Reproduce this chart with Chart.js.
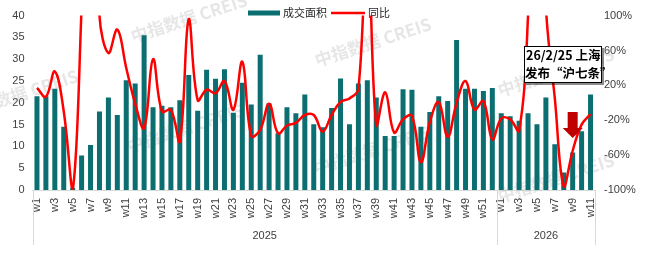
<!DOCTYPE html>
<html><head><meta charset="utf-8">
<script src="https://cdn.jsdelivr.net/npm/chart.js@4/dist/chart.umd.min.js"></script>
<style>html,body{margin:0;padding:0;background:#fff;}#wrap{width:650px;height:256px;}</style>
</head><body><div id="wrap"><canvas id="c" width="650" height="256"></canvas></div>
<script>
// ---- data ----
const weeks2025 = ['w1','w2','w3','w4','w5','w6','w7','w8','w9','w10','w11','w12','w13','w14','w15','w16','w17','w18','w19','w20','w21','w22','w23','w24','w25','w26','w27','w28','w29','w30','w31','w32','w33','w34','w35','w36','w37','w38','w39','w40','w41','w42','w43','w44','w45','w46','w47','w48','w49','w50','w51','w52'];
const weeks2026 = ['w1','w2','w3','w4','w5','w6','w7','w8','w9','w10','w11'];
const categories = weeks2025.concat(weeks2026);
const yearLabels = ['2025','2026'];
const area2025 = [21.5,21.5,23.2,14.5,0.5,7.9,10.3,18.0,21.2,17.2,25.2,24.4,35.5,19.0,19.3,19.0,20.6,26.4,18.2,27.6,25.5,27.7,17.7,24.6,19.6,31.0,19.9,13.0,19.0,17.6,21.9,15.1,14.4,18.8,25.6,15.1,24.4,25.2,21.2,12.4,12.4,23.1,23.0,14.5,17.9,21.5,20.4,34.4,23.2,23.2,22.7,23.4];
const area2026 = [17.6,16.9,15.9,17.6,15.1,21.2,10.5,4.0,8.6,13.5,21.9];
const yoy2025 = [17,7,36,-10,-100,110,400,100,57,84,40,-1,-29,50,-10,-8,-44,96,3,15,11,25,-8,47,-38,-31,-1,-35,-26,-23,-14,-14,-33,-14,1,5,16,200,-25,12,-34,-19,-15,-68,-22,1,-39,0,25,-8,2,-42];
const yoy2026 = [-18,-19,-32,100,400,110,5,-96,-55,-25,-13];
const areaValues = area2025.concat(area2026);
const yoyValues = yoy2025.concat(yoy2026);
const leftTicks = [0,5,10,15,20,25,30,35,40];
const rightTicks = [-100,-60,-20,20,60,100];
const seriesNames = ['成交面积','同比'];
const noteLines = ['26/2/25 上海','发布“沪七条”'];
const watermark = '中指数据 CREIS';

const TEAL = '#0b6e70';
const RED = '#ff0000';
const TXT = '#404040';

const extras = {
  id: 'extras',
  beforeDatasetsDraw(chart) {
    const ctx = chart.ctx;
    ctx.save();
    ctx.fillStyle = 'rgba(150,150,150,0.24)';
    ctx.font = 'bold 17px "Noto Sans CJK SC", "Liberation Sans", sans-serif';
    ctx.textAlign = 'center';
    ctx.textBaseline = 'middle';
    const spots = [[189,18],[373,42],[556,72],[20,94],[185,128],[372,150],[556,178]];
    spots.forEach(([x,y]) => {
      ctx.save(); ctx.translate(x,y); ctx.rotate(-18*Math.PI/180);
      ctx.fillText(watermark,0,0); ctx.restore();
    });
    ctx.restore();
  },
  afterDatasetsDraw(chart) {
    const ctx = chart.ctx;
    const xs = chart.scales.x;
    const ca = chart.chartArea;
    ctx.save();
    // legend
    ctx.fillStyle = TEAL;
    ctx.fillRect(248, 10.5, 32, 5);
    ctx.font = '11px "Noto Sans CJK SC", sans-serif';
    ctx.fillStyle = '#262626';
    ctx.textBaseline = 'middle';
    ctx.textAlign = 'left';
    ctx.fillText(seriesNames[0], 283, 13);
    ctx.strokeStyle = RED; ctx.lineWidth = 2.5;
    ctx.beginPath(); ctx.moveTo(331, 13); ctx.lineTo(365, 13); ctx.stroke();
    ctx.fillText(seriesNames[1], 368, 13);

    // group separators + year labels
    const n1 = weeks2025.length;
    const bx = (xs.getPixelForValue(n1-1) + xs.getPixelForValue(n1)) / 2;
    const seps = [ca.left, bx, ca.right];
    ctx.strokeStyle = '#d9d9d9'; ctx.lineWidth = 1;
    seps.forEach(x => {
      const px = Math.round(x) + 0.5;
      ctx.beginPath(); ctx.moveTo(px, ca.bottom); ctx.lineTo(px, 245); ctx.stroke();
    });
    ctx.fillStyle = TXT;
    ctx.font = '11px "Liberation Sans", Arial, sans-serif';
    ctx.textAlign = 'center';
    ctx.fillText(yearLabels[0], (seps[0]+seps[1])/2, 236);
    ctx.fillText(yearLabels[1], (seps[1]+seps[2])/2, 236);

    // annotation box
    const bxR = ca.right + 7, bxL = bxR - 78, top = 46, h = 37;
    ctx.fillStyle = 'rgba(0,0,0,0.45)';
    ctx.fillRect(bxL + 2, top + 2, bxR - bxL, h);
    ctx.fillStyle = '#ffffff';
    ctx.fillRect(bxL, top, bxR - bxL, h);
    ctx.strokeStyle = '#000'; ctx.lineWidth = 1;
    ctx.strokeRect(bxL + 0.5, top + 0.5, bxR - bxL - 1, h - 1);
    ctx.fillStyle = '#000';
    ctx.font = 'bold 12.5px "Noto Sans CJK SC", sans-serif';
    ctx.textAlign = 'left';
    ctx.fillText(noteLines[0], bxL + 2, top + 9);
    ctx.fillText(noteLines[1], bxL + 1, top + 27);

    // arrow
    const ax = xs.getPixelForValue(n1 + 8);
    ctx.fillStyle = '#c00000';
    ctx.fillRect(ax - 5, 112, 10, 17);
    ctx.beginPath(); ctx.moveTo(ax - 10, 128); ctx.lineTo(ax + 10, 128); ctx.lineTo(ax, 138); ctx.closePath(); ctx.fill();
    ctx.restore();
  }
};

new Chart(document.getElementById('c'), {
  type: 'bar',
  data: {
    labels: categories,
    datasets: [
      { type: 'line', label: seriesNames[1], data: yoyValues, yAxisID: 'y1', borderColor: RED, borderWidth: 2.5,
        pointRadius: 0, tension: 0.4, fill: false, order: 1 },
      { type: 'bar', label: seriesNames[0], data: areaValues, yAxisID: 'y', backgroundColor: TEAL,
        barPercentage: 0.56, categoryPercentage: 1, order: 2 }
    ]
  },
  options: {
    responsive: false, devicePixelRatio: 1, animation: false,
    layout: { padding: { top: 14, left: 0, right: 0, bottom: 0 } },
    plugins: { legend: { display: false }, tooltip: { enabled: false } },
    scales: {
      x: {
        grid: { display: false, drawTicks: false },
        border: { display: true, color: '#d9d9d9' },
        ticks: { autoSkip: false, maxRotation: 90, minRotation: 90, padding: 8, color: TXT,
          font: { size: 11, family: '"Liberation Sans", Arial, sans-serif' },
          callback: (v, i) => (i % 2 === 0 ? categories[i] : '') },
        afterFit: s => { s.height = 66; }
      },
      y: {
        position: 'left', min: 0, max: 40,
        grid: { display: false, drawTicks: false }, border: { display: false },
        afterBuildTicks: s => { s.ticks = leftTicks.map(v => ({ value: v })); },
        ticks: { padding: 8, color: TXT, font: { size: 11, family: '"Liberation Sans", Arial, sans-serif' } },
        afterFit: s => { s.width = 32.5; }
      },
      y1: {
        position: 'right', min: -100, max: 100,
        grid: { display: false, drawTicks: false }, border: { display: false },
        afterBuildTicks: s => { s.ticks = rightTicks.map(v => ({ value: v })); },
        ticks: { padding: 9, color: TXT, font: { size: 11, family: '"Liberation Sans", Arial, sans-serif' },
          callback: v => v + '%' },
        afterFit: s => { s.width = 55; }
      }
    }
  },
  plugins: [extras]
});
</script>
</body></html>
